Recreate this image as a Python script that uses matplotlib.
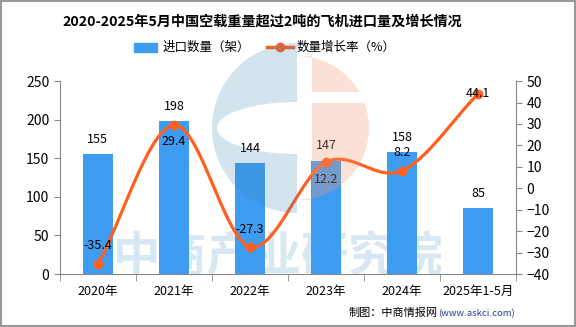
import numpy as np
import matplotlib.pyplot as plt
from matplotlib.patches import Rectangle, Polygon

plt.rcParams['font.family'] = ['Noto Sans CJK SC', 'DejaVu Sans']

years = ['2020年', '2021年', '2022年', '2023年', '2024年', '2025年1-5月']
imports = [155, 198, 144, 147, 158, 85]
growth = [-35.4, 29.4, -27.3, 12.2, 8.2, 44.1]
growth_years = [0, 1, 2, 3, 4, 5]

bar_color = '#3e9cf1'
line_color = '#ff5f1f'

W, H = 576, 327
fig = plt.figure(figsize=(W / 100, H / 100), dpi=100)
ax = fig.add_axes([0.104, 0.162, 0.792, 0.59])
ax2 = ax.twinx()
ax.set_zorder(1)
ax2.set_zorder(2)


def px(pts):
    # pixel coords (from top-left) -> inches for dpi_scale_trans
    return [(x / 100, (H - y) / 100) for x, y in pts]


# watermark logo, drawn over the plot with transparency
cx0, cy0 = 297, 128
a = np.linspace(np.pi / 2, 3 * np.pi / 2, 60)
outer = [(cx0 + 85 * np.cos(t), cy0 - 85 * np.sin(t)) for t in a]
inner = [(cx0 + 80 * np.cos(t), cy0 - 26 * np.sin(t)) for t in a[::-1]]
blue_logo = outer + inner
fig.patches.append(Polygon(px(blue_logo), closed=True, transform=fig.dpi_scale_trans,
                           facecolor='#3b86b8', alpha=0.22, edgecolor='none', zorder=5, figure=fig))
r = 72
for y0, y1 in ((cy0 - r, 92), (103, cy0 + r)):
    ys = np.linspace(y0, y1, 40)
    right = [(cx0 + np.sqrt(max(r * r - (y - cy0) ** 2, 0)), y) for y in ys]
    pts = right + [(312, y1), (312, y0)]
    fig.patches.append(Polygon(px(pts), closed=True, transform=fig.dpi_scale_trans,
                               facecolor='#f29a78', alpha=0.3, edgecolor='none', zorder=5, figure=fig))

# watermark text, behind the bars
fig.text(0.483, 0.215, '中商产业研究院', fontsize=34, color='#d8e8f2', ha='center', va='center',
         fontweight='bold', zorder=0.5)

x = np.arange(len(years))
ax.bar(x, imports, width=0.4, color=bar_color, zorder=2, label='进口数量（架）')
for xi, v in zip(x, imports):
    ax.text(xi, v + 19, str(v), ha='center', va='center', fontsize=9)

ax.set_xlim(-0.5, len(years) - 0.5)
ax.set_ylim(0, 250)
ax.set_yticks(range(0, 251, 50))
ax.set_xticks(x)
ax.set_xticklabels(years, fontsize=9)
ax.set_xticks(np.arange(-0.5, len(years), 1), minor=True)
ax.tick_params(axis='x', which='major', length=0, pad=8)
ax.tick_params(axis='x', which='minor', length=5, color='#888888')
ax.tick_params(axis='y', labelsize=10, color='#888888', length=4)
for s in ['top', 'right']:
    ax.spines[s].set_visible(False)
ax.spines['left'].set_color('#888888')
ax.spines['bottom'].set_color('#888888')
ax.patch.set_alpha(0)

# smooth curve (catmull-rom)
gx = np.array(growth_years, dtype=float)
gy = np.array(growth, dtype=float)
qx = np.concatenate([[2 * gx[0] - gx[1]], gx, [2 * gx[-1] - gx[-2]]])
qy = np.concatenate([[2 * gy[0] - gy[1]], gy, [2 * gy[-1] - gy[-2]]])
cx, cy = [], []
t = np.linspace(0, 1, 40)
for i in range(1, len(qx) - 2):
    for arr, out in ((qx, cx), (qy, cy)):
        p0, p1, p2, p3 = arr[i - 1], arr[i], arr[i + 1], arr[i + 2]
        out.extend(0.5 * ((2 * p1) + (-p0 + p2) * t + (2 * p0 - 5 * p1 + 4 * p2 - p3) * t ** 2
                          + (-p0 + 3 * p1 - 3 * p2 + p3) * t ** 3))
ax2.plot(cx, cy, color=line_color, lw=2.3, zorder=3)
ax2.plot(gx, gy, 'o', color=line_color, ms=6, zorder=4)

offsets = [8.5, -7.5, 8, -8, 8.5, 0]
for xi, v, o in zip(gx, gy, offsets):
    ax2.text(xi, v + o, f'{v}', ha='center', va='center', fontsize=9, zorder=5)

ax2.set_ylim(-40, 50)
ax2.set_yticks(range(-40, 51, 10))
ax2.tick_params(axis='y', labelsize=10, color='#888888', length=4)
for s in ['top', 'left', 'bottom']:
    ax2.spines[s].set_visible(False)
ax2.spines['right'].set_color('#888888')
ax2.patch.set_alpha(0)

fig.text(0.455, 0.933, '2020-2025年5月中国空载重量超过2吨的飞机进口量及增长情况',
         ha='center', va='center', fontsize=10.2, fontweight='bold')

# legend
fig.patches.append(Rectangle((0.233, 0.842), 0.04, 0.026, transform=fig.transFigure,
                             color=bar_color, figure=fig))
fig.text(0.283, 0.856, '进口数量（架）', fontsize=9, va='center')
fig.lines.append(plt.Line2D([0.463, 0.508], [0.856, 0.856], transform=fig.transFigure,
                            color=line_color, lw=2.5, figure=fig))
fig.lines.append(plt.Line2D([0.486], [0.856], marker='o', ms=6, transform=fig.transFigure,
                            color=line_color, figure=fig))
fig.text(0.515, 0.856, '数量增长率（%）', fontsize=9, va='center')

fig.text(0.759, 0.042, '制图：中商情报网', fontsize=8, ha='right', va='center')
fig.text(0.761, 0.042, '(www.askci.com)', fontsize=6.8, va='center', color='#1f3f8f')

fig.patches.append(Rectangle((0.001, 0.002), 0.997, 0.995, transform=fig.transFigure,
                             fill=False, edgecolor='#999999', lw=1.5, figure=fig))

fig.savefig('out.png', dpi=100)
